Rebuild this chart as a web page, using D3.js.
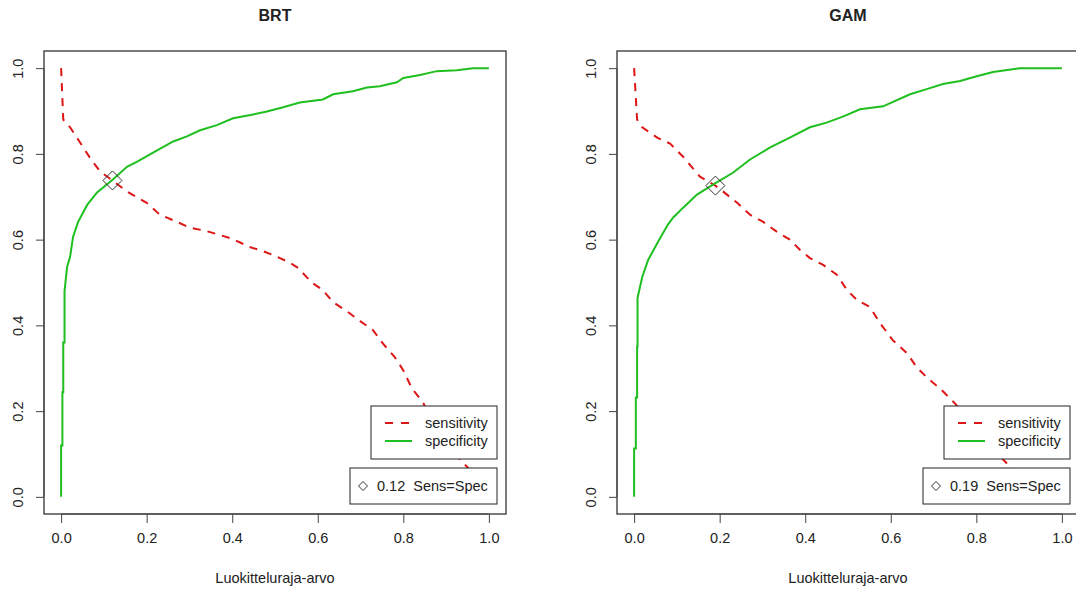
<!DOCTYPE html>
<html>
<head>
<meta charset="utf-8">
<script src="https://cdn.jsdelivr.net/npm/d3@7"></script>
<style>
body { margin: 0; background: #fff; }
text { font-family: "Liberation Sans", Arial, sans-serif; fill: #222; }
</style>
</head>
<body>
<svg width="1076" height="590"></svg>
<script>
// values: [cutoff, value]
var brtSens = [[0,1],[0.005,0.88],[0.021,0.862],[0.044,0.827],[0.068,0.79],[0.091,0.759],[0.12,0.738],
  [0.154,0.712],[0.2,0.686],[0.231,0.658],[0.27,0.642],[0.3,0.628],[0.34,0.62],[0.37,0.611],[0.4,0.602],
  [0.44,0.583],[0.47,0.574],[0.505,0.56],[0.535,0.546],[0.554,0.534],[0.586,0.5],[0.612,0.482],[0.636,0.454],
  [0.668,0.433],[0.699,0.41],[0.729,0.389],[0.752,0.358],[0.78,0.326],[0.8,0.295],[0.82,0.253],[0.846,0.22],
  [0.88,0.15],[0.92,0.1],[0.951,0.068],[0.975,0.035],[1,0]]
var brtSpec = [[0,0],[0,0.12],[0.003,0.12],[0.003,0.244],[0.005,0.244],[0.005,0.36],[0.008,0.36],[0.008,0.48],
  [0.014,0.536],[0.021,0.56],[0.028,0.607],[0.04,0.642],[0.061,0.681],[0.084,0.71],[0.121,0.74],[0.154,0.77],
  [0.178,0.782],[0.215,0.803],[0.262,0.829],[0.294,0.841],[0.325,0.855],[0.364,0.867],[0.402,0.883],
  [0.449,0.892],[0.481,0.899],[0.519,0.909],[0.558,0.92],[0.612,0.927],[0.636,0.939],[0.682,0.946],
  [0.715,0.955],[0.745,0.958],[0.785,0.967],[0.8,0.977],[0.839,0.984],[0.878,0.993],[0.925,0.995],[0.963,1],[1,1]]
var gamSens = [[0,1],[0.007,0.88],[0.019,0.862],[0.054,0.838],[0.084,0.824],[0.114,0.794],[0.136,0.768],
  [0.154,0.747],[0.19,0.726],[0.217,0.705],[0.241,0.686],[0.271,0.658],[0.301,0.642],[0.334,0.618],[0.364,0.6],
  [0.388,0.576],[0.411,0.557],[0.442,0.541],[0.474,0.518],[0.498,0.482],[0.521,0.459],[0.551,0.443],
  [0.575,0.405],[0.605,0.365],[0.638,0.335],[0.661,0.302],[0.687,0.276],[0.715,0.253],[0.75,0.218],
  [0.8,0.16],[0.85,0.1],[0.883,0.066],[0.93,0.03],[1,0]]
var gamSpec = [[0,0],[0,0.113],[0.004,0.113],[0.004,0.232],[0.007,0.232],[0.007,0.35],[0.008,0.35],[0.008,0.464],
  [0.019,0.513],[0.033,0.553],[0.056,0.595],[0.079,0.635],[0.091,0.651],[0.114,0.674],[0.147,0.705],
  [0.189,0.731],[0.231,0.756],[0.271,0.787],[0.318,0.815],[0.364,0.838],[0.411,0.862],[0.45,0.873],
  [0.488,0.887],[0.528,0.904],[0.582,0.911],[0.645,0.939],[0.684,0.951],[0.722,0.963],[0.762,0.97],
  [0.801,0.981],[0.839,0.991],[0.902,1],[1,1]]
var titles = ["BRT", "GAM"]
var cutoffs = [[0.12, 0.738], [0.19, 0.726]]
var ticks = [0, 0.2, 0.4, 0.6, 0.8, 1.0]
var legendNames = ["sensitivity", "specificity"]

var red = "#dd1616", green = "#1fbf1f"
var fs = "14.5px"
var svg = d3.select("svg")

function drawPanel(left, title, sens, spec, cut) {
  var x = d3.scaleLinear().domain([-0.04, 1.04]).range([left, left + 462])
  var y = d3.scaleLinear().domain([-0.04, 1.04]).range([514, 51])
  var g = svg.append("g")
  var line = d3.line().x(function(d){return x(d[0])}).y(function(d){return y(d[1])})

  g.append("path").datum(sens).attr("d", line)
    .attr("fill", "none").attr("stroke", red).attr("stroke-width", 2).attr("stroke-dasharray", "8,7")
  g.append("path").datum(spec).attr("d", line)
    .attr("fill", "none").attr("stroke", green).attr("stroke-width", 2)

  // sens=spec point
  var s = 9.5
  g.append("path")
    .attr("d", "M0," + (-s) + "L" + s + ",0L0," + s + "L" + (-s) + ",0Z")
    .attr("transform", "translate(" + x(cut[0]) + "," + y(cut[1]) + ")")
    .attr("fill", "none").attr("stroke", "#333").attr("stroke-width", 1)

  // box
  g.append("rect").attr("x", left).attr("y", 51).attr("width", 462).attr("height", 463)
    .attr("fill", "none").attr("stroke", "#333").attr("stroke-width", 1.3)

  // axes (R style)
  var xAxis = d3.axisBottom(x).tickValues(ticks).tickSize(9).tickPadding(10).tickFormat(d3.format(".1f"))
  var xg = g.append("g").attr("transform", "translate(0,514)").call(xAxis)
  var yAxis = d3.axisLeft(y).tickValues(ticks).tickSize(8).tickFormat(d3.format(".1f"))
  var yg = g.append("g").attr("transform", "translate(" + left + ",0)").call(yAxis)
  ;[xg, yg].forEach(function(a){
    a.select(".domain").attr("stroke", "#444")
    a.selectAll(".tick line").attr("stroke", "#444")
    a.selectAll("text").style("font-size", fs).attr("fill", "#222")
  })
  xg.select(".domain").attr("d", "M" + x(0) + ",0H" + x(1))
  yg.select(".domain").attr("d", "M0," + y(0) + "V" + y(1))
  yg.selectAll(".tick text").attr("x", null).attr("dy", null)
    .attr("text-anchor", "middle").attr("transform", "translate(-21,0) rotate(-90)")

  g.append("text").attr("x", x(0.5)).attr("y", 21).attr("text-anchor", "middle")
    .style("font-size", "16px").style("font-weight", "bold").attr("fill", "#111").text(title)
  g.append("text").attr("x", x(0.5)).attr("y", 583).attr("text-anchor", "middle")
    .style("font-size", fs).text("Luokitteluraja-arvo")

  // legends
  var lr = left + 453
  var lg = g.append("g")
  lg.append("rect").attr("x", lr - 126).attr("y", 406).attr("width", 126).attr("height", 53)
    .attr("fill", "#fff").attr("stroke", "#222").attr("stroke-width", 1)
  legendNames.forEach(function(n, i){
    var ly = 423 + i * 18
    lg.append("line").attr("x1", lr - 112).attr("x2", lr - 85).attr("y1", ly).attr("y2", ly)
      .attr("stroke", i == 0 ? red : green).attr("stroke-width", 2)
      .attr("stroke-dasharray", i == 0 ? "8,8" : null)
    lg.append("text").attr("x", lr - 72).attr("y", ly + 5).style("font-size", fs).text(n)
  })
  lg.append("rect").attr("x", lr - 147).attr("y", 468).attr("width", 147).attr("height", 36)
    .attr("fill", "#fff").attr("stroke", "#222").attr("stroke-width", 1)
  var d = 4.5, cx = lr - 134, cy = 486
  lg.append("path").attr("d", "M" + cx + "," + (cy - d) + "L" + (cx + d) + "," + cy + "L" + cx + "," + (cy + d) + "L" + (cx - d) + "," + cy + "Z")
    .attr("fill", "none").attr("stroke", "#333")
  lg.append("text").attr("x", lr - 120).attr("y", cy + 5).style("font-size", fs)
    .text(cut[0].toFixed(2) + "  Sens=Spec").style("white-space", "pre")
}

drawPanel(44, titles[0], brtSens, brtSpec, cutoffs[0])
drawPanel(617, titles[1], gamSens, gamSpec, cutoffs[1])
</script>
</body>
</html>
